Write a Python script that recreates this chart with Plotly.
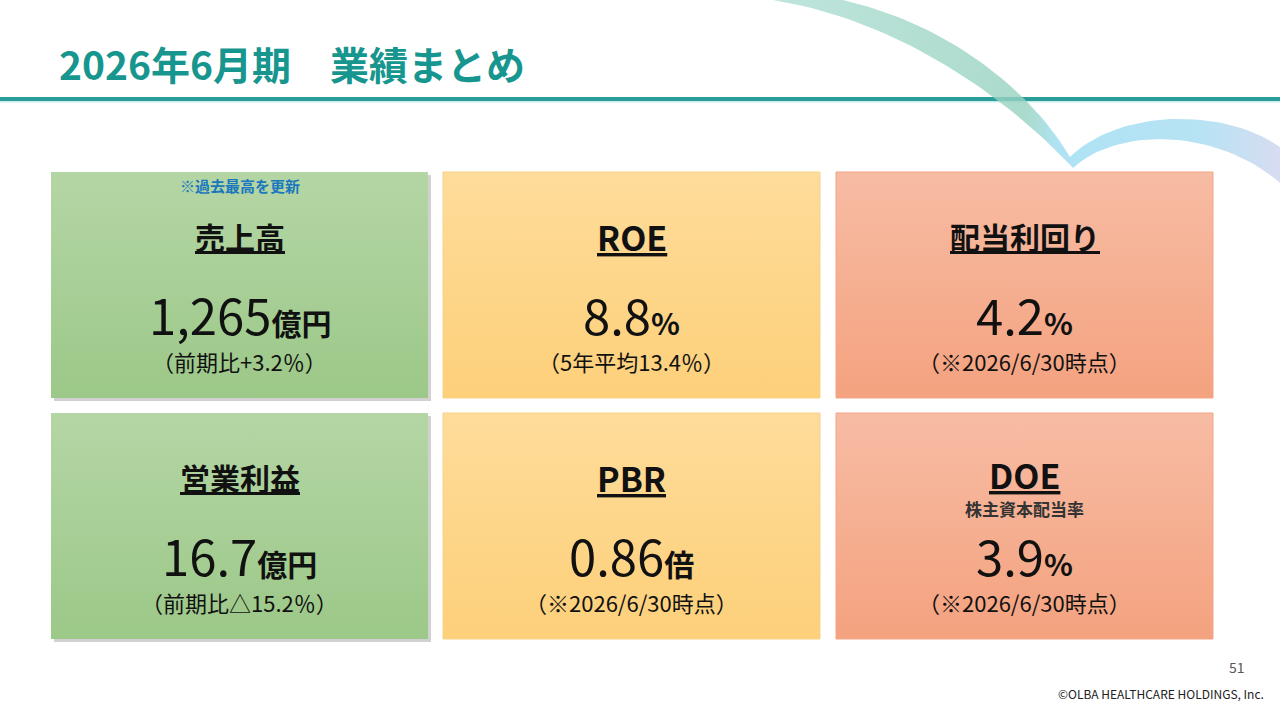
"""Slide: 2026年6月期 業績まとめ (KPI cards)."""

import numpy as np
import plotly.graph_objects as go

# ---- data -----------------------------------------------------------------
slide_title = "2026年6月期　業績まとめ"
card_titles = ["売上高", "ROE", "配当利回り", "営業利益", "PBR", "DOE"]
card_values = ["1,265", "8.8", "4.2", "16.7", "0.86", "3.9"]
card_units = ["億円", "%", "%", "億円", "倍", "%"]
card_notes = [
    "（前期比+3.2％）",
    "（5年平均13.4％）",
    "（※2026/6/30時点）",
    "（前期比△15.2％）",
    "（※2026/6/30時点）",
    "（※2026/6/30時点）",
]
card_badges = ["※過去最高を更新", "", "", "", "", ""]
card_subtitles = ["", "", "", "", "", "株主資本配当率"]
page_number = "51"
copyright_text = "©OLBA HEALTHCARE HOLDINGS, Inc."

# ---- style ----------------------------------------------------------------
W, H = 1280, 720
FONT = "Noto Sans CJK JP"
TEAL = "#17958f"
col_left = [51, 443, 836]
card_w = 377
row_top = [172, 413]
card_h = 226
col_fill = [("#b4d6a5", "#9cc888"), ("#fedc9a", "#fdd07a"), ("#f7bca4", "#f4a27f")]
col_edge = [None, "#f8d189", "#f2a586"]


def bezier(p0, p1, p2, p3, n=40):
    t = np.linspace(0, 1, n)[:, None]
    pts = ((1 - t) ** 3) * p0 + 3 * ((1 - t) ** 2) * t * p1 + 3 * (1 - t) * t ** 2 * p2 + t ** 3 * p3
    return pts[:, 0], pts[:, 1]


fig = go.Figure()

# decorative ribbon (top right)
segs = [
    ((773, 0), (900, 20), (1010, 100), (1073, 168)),
    ((1073, 168), (1120, 125), (1220, 130), (1280, 183)),
    ((1280, 147), (1225, 108), (1120, 108), (1070, 157)),
    ((1070, 157), (1030, 90), (950, 25), (843, 0)),
]
rx, ry = [], []
for s in segs:
    bx, by = bezier(*[np.array(p, dtype=float) for p in s])
    rx.extend(bx)
    ry.extend(by)
fig.add_trace(
    go.Scatter(
        x=rx, y=ry, mode="lines", fill="toself", line=dict(width=0),
        fillgradient=dict(
            type="horizontal",
            colorscale=[
                [0.0, "rgba(180,224,214,0.85)"],
                [0.5, "rgba(150,210,192,0.8)"],
                [0.56, "rgba(160,222,242,0.85)"],
                [0.84, "rgba(170,222,242,0.85)"],
                [1.0, "rgba(212,216,240,0.9)"],
            ],
        ),
        hoverinfo="skip", showlegend=False,
    )
)

annotations = []
for i, title in enumerate(card_titles):
    r, c = divmod(i, 3)
    x0, y0 = col_left[c], row_top[r]
    x1, y1 = x0 + card_w, y0 + card_h
    cx = (x0 + x1) / 2
    top_col, bot_col = col_fill[c]

    if c == 0:
        # soft shadow under the green cards
        fig.add_trace(
            go.Scatter(
                x=[x0 + 3, x1 + 3, x1 + 3, x0 + 3, x0 + 3],
                y=[y0 + 3, y0 + 3, y1 + 3, y1 + 3, y0 + 3],
                mode="lines", fill="toself", line=dict(width=0),
                fillcolor="rgba(0,0,0,0.18)", hoverinfo="skip", showlegend=False,
            )
        )
    # y axis is reversed, so gradient 0 sits at the bottom edge
    fig.add_trace(
        go.Scatter(
            x=[x0, x1, x1, x0, x0],
            y=[y0, y0, y1, y1, y0],
            mode="lines", fill="toself",
            line=dict(width=1 if col_edge[c] else 0, color=col_edge[c] or top_col),
            fillgradient=dict(type="vertical", colorscale=[[0, bot_col], [1, top_col]]),
            hoverinfo="skip", showlegend=False,
        )
    )

    has_sub = bool(card_subtitles[i])
    if card_badges[i]:
        annotations.append(dict(
            x=cx, y=y0 + 13, text=f"<b>{card_badges[i]}</b>",
            font=dict(size=15, color="#1b78be", family=FONT),
        ))
    title_size = 34 if title.isascii() else 30
    annotations.append(dict(
        x=cx, y=y0 + (61 if has_sub else 64), text=f"<b><u>{title}</u></b>",
        font=dict(size=title_size, color="#111111", family=FONT),
    ))
    if has_sub:
        annotations.append(dict(
            x=cx, y=y0 + 95, text=f"<b>{card_subtitles[i]}</b>",
            font=dict(size=17, color="#333333", family=FONT),
        ))
    annotations.append(dict(
        x=cx, y=y0 + 141,
        text=f"{card_values[i]}<b><span style='font-size:30px'>{card_units[i]}</span></b>",
        font=dict(size=49, color="#111111", family=FONT),
    ))
    annotations.append(dict(
        x=cx, y=y0 + 189, text=card_notes[i],
        font=dict(size=22, color="#111111", family=FONT),
    ))

annotations.append(dict(
    x=57, y=63, xanchor="left", text=f"<b>{slide_title}</b>",
    font=dict(size=39, color=TEAL, family=FONT),
))
annotations.append(dict(
    x=1247, y=667, xanchor="right", text=page_number,
    font=dict(size=14, color="#595959", family=FONT),
))
annotations.append(dict(
    x=1266, y=693, xanchor="right", text=copyright_text,
    font=dict(size=12, color="#222222", family=FONT),
))
for a in annotations:
    a.setdefault("xanchor", "center")
    a.update(yanchor="middle", showarrow=False, xref="x", yref="y")

fig.update_layout(
    width=W, height=H,
    margin=dict(l=0, r=0, t=0, b=0),
    paper_bgcolor="white", plot_bgcolor="white",
    xaxis=dict(range=[0, W], visible=False, fixedrange=True),
    yaxis=dict(range=[H, 0], visible=False, fixedrange=True),
    annotations=annotations,
    shapes=[
        dict(type="line", x0=0, x1=W, y0=101.5, y1=101.5, layer="below",
             line=dict(color="#c9ecec", width=2)),
        dict(type="line", x0=0, x1=W, y0=99, y1=99, layer="below",
             line=dict(color="#2a9d99", width=4)),
    ],
    showlegend=False,
)

# drop the browser's default body margin so the slide sits at 0,0
fig.write_html(
    "out.html",
    config={"displayModeBar": False},
    post_script="document.body.style.margin='0';",
)
